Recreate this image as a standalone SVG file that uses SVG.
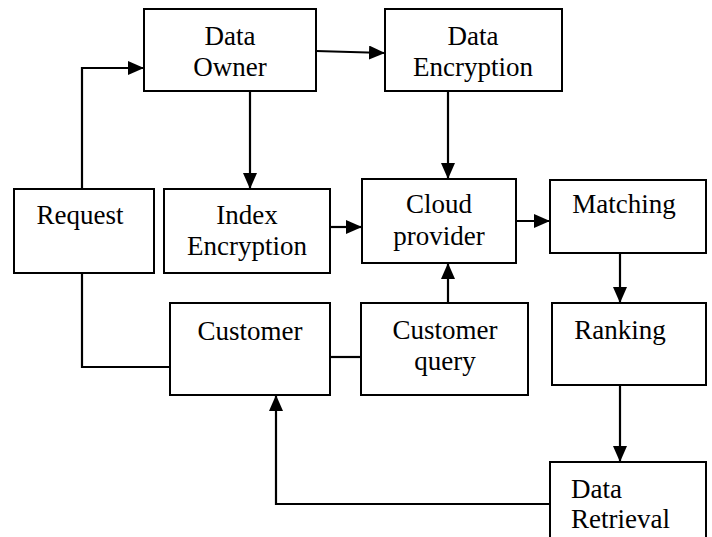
<svg xmlns="http://www.w3.org/2000/svg" width="712" height="537" viewBox="0 0 712 537">
<style>
.box{fill:#fff;stroke:#000;stroke-width:2}
.t{font-family:"Liberation Serif","Times New Roman",serif;font-size:27px;fill:#000;text-anchor:middle}
.tl{text-anchor:start}
.c{fill:none;stroke:#000;stroke-width:2.2}
</style>
<defs>
<marker id="ah" viewBox="0 0 16 14" refX="16" refY="7" markerWidth="16" markerHeight="14" markerUnits="userSpaceOnUse" orient="auto">
<path d="M0,0 L16,7 L0,14 Z" fill="#000"/>
</marker>
</defs>
<rect width="712" height="537" fill="#fff"/>
<g id="connectors">
<polyline class="c" points="82,189 82,68 144,68" marker-end="url(#ah)"/>
<line class="c" x1="316" y1="51" x2="385" y2="53" marker-end="url(#ah)"/>
<line class="c" x1="250" y1="91" x2="250" y2="189" marker-end="url(#ah)"/>
<line class="c" x1="448" y1="91" x2="448" y2="179" marker-end="url(#ah)"/>
<line class="c" x1="330" y1="227" x2="362" y2="227" marker-end="url(#ah)"/>
<line class="c" x1="513" y1="221" x2="550" y2="221" marker-end="url(#ah)"/>
<line class="c" x1="620" y1="253" x2="620" y2="303" marker-end="url(#ah)"/>
<line class="c" x1="620" y1="385" x2="620" y2="462" marker-end="url(#ah)"/>
<line class="c" x1="448" y1="303" x2="448" y2="263" marker-end="url(#ah)"/>
<polyline class="c" points="82,273 82,367 170,367"/>
<line class="c" x1="330" y1="357" x2="361" y2="357"/>
<polyline class="c" points="550,504 276,504 276,395" marker-end="url(#ah)"/>
</g>
<g id="data-owner">
<rect class="box" x="144" y="9" width="172" height="82"/>
<text class="t" x="230" y="45">Data</text>
<text class="t" x="230" y="76">Owner</text>
</g>
<g id="data-encryption">
<rect class="box" x="385" y="9" width="177" height="82"/>
<text class="t" x="473" y="45">Data</text>
<text class="t" x="473" y="76">Encryption</text>
</g>
<g id="request">
<rect class="box" x="14" y="189" width="140" height="84"/>
<text class="t" x="80" y="224">Request</text>
</g>
<g id="index-encryption">
<rect class="box" x="164" y="189" width="166" height="84"/>
<text class="t" x="247" y="224">Index</text>
<text class="t" x="247" y="255">Encryption</text>
</g>
<g id="cloud-provider">
<rect class="box" x="362" y="179" width="154" height="84"/>
<text class="t" x="439" y="213">Cloud</text>
<text class="t" x="439" y="245">provider</text>
</g>
<g id="matching">
<rect class="box" x="550" y="180" width="156" height="73"/>
<text class="t" x="624" y="213">Matching</text>
</g>
<g id="customer">
<rect class="box" x="170" y="303" width="160" height="92"/>
<text class="t" x="250" y="340">Customer</text>
</g>
<g id="customer-query">
<rect class="box" x="361" y="303" width="167" height="92"/>
<text class="t" x="445" y="339">Customer</text>
<text class="t" x="445" y="370">query</text>
</g>
<g id="ranking">
<rect class="box" x="552" y="303" width="154" height="82"/>
<text class="t" x="620" y="339">Ranking</text>
</g>
<g id="data-retrieval">
<rect class="box" x="550" y="462" width="156" height="90"/>
<text class="t tl" x="571" y="498">Data</text>
<text class="t tl" x="571" y="528">Retrieval</text>
</g>
</svg>
